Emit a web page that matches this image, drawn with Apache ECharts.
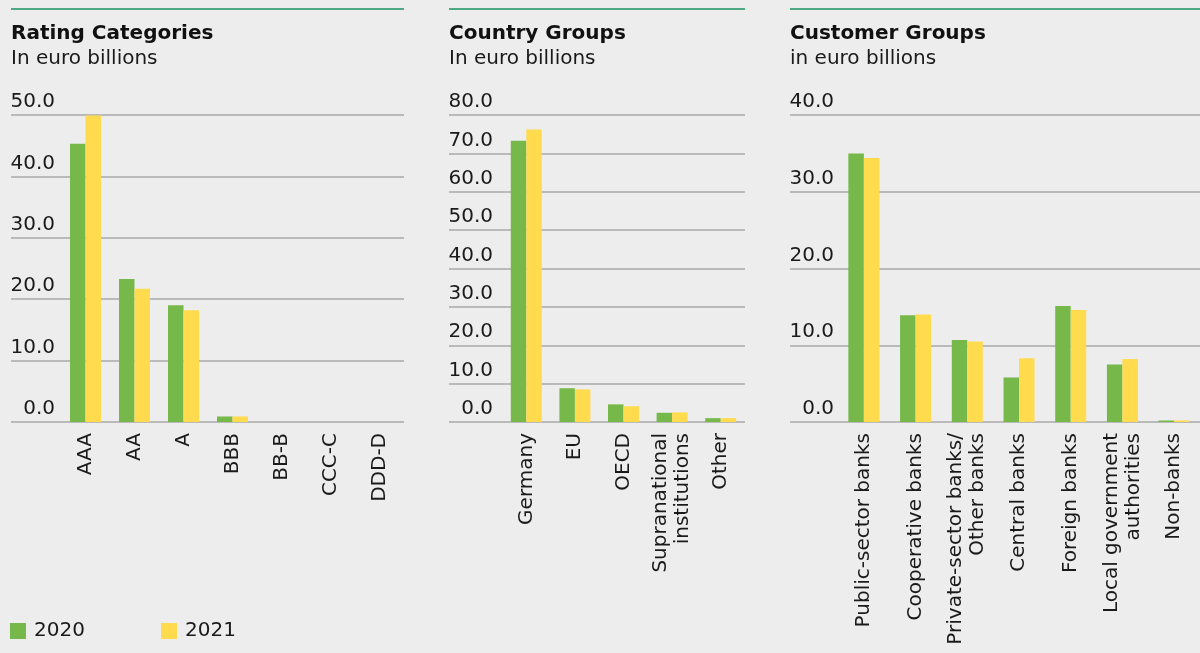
<!DOCTYPE html>
<html>
<head>
<meta charset="utf-8">
<title>Rating, Country and Customer Groups</title>
<script src="https://cdn.jsdelivr.net/npm/echarts@6/dist/echarts.min.js"></script>
<style>
  html, body { margin: 0; padding: 0; background: #ededed; }
  #chart { width: 1200px; height: 653px; }
</style>
</head>
<body>
<div id="chart"></div>
<script>
const SERIES_NAMES = ["2020", "2021"];
const SERIES_COLORS = ["#76b84a", "#ffdb4d"];

const ratingCategories = ["AAA", "AA", "A", "BBB", "BB-B", "CCC-C", "DDD-D"];
const rating2020 = [45.3, 23.3, 19.0, 0.9, 0, 0, 0];
const rating2021 = [49.9, 21.7, 18.2, 0.9, 0, 0, 0];
const ratingTicks = [0, 50, 10]; // min, max, step

const countryCategories = ["Germany", "EU", "OECD", "Supranational\ninstitutions", "Other"];
const country2020 = [73.3, 8.8, 4.6, 2.4, 1.0];
const country2021 = [76.2, 8.5, 4.1, 2.5, 1.0];
const countryTicks = [0, 80, 10];

const customerCategories = [
  "Public-sector banks",
  "Cooperative banks",
  "Private-sector banks/\nOther banks",
  "Central banks",
  "Foreign banks",
  "Local government\nauthorities",
  "Non-banks",
];
const customer2020 = [35.0, 13.9, 10.7, 5.8, 15.1, 7.5, 0.2];
const customer2021 = [34.4, 14.0, 10.5, 8.3, 14.6, 8.2, 0.2];
const customerTicks = [0, 40, 10];

const FONT = "DejaVu Sans, Verdana, sans-serif";
const TEXT_COLOR = "#1a1a1a";
const GRID_TOP = 115;
const GRID_BOTTOM = 231;

// each panel: gridline area (lineLeft..lineRight) and the bar area (barLeft..barRight)
const PANELS = [
  { title: "Rating Categories", sub: "In euro billions", lineLeft: 11, lineRight: 404, barLeft: 61, barRight: 404,
    categories: ratingCategories, values: [rating2020, rating2021], ticks: ratingTicks },
  { title: "Country Groups", sub: "In euro billions", lineLeft: 449, lineRight: 745, barLeft: 502, barRight: 745,
    categories: countryCategories, values: [country2020, country2021], ticks: countryTicks },
  { title: "Customer Groups", sub: "in euro billions", lineLeft: 790, lineRight: 1200, barLeft: 838, barRight: 1217,
    categories: customerCategories, values: [customer2020, customer2021], ticks: customerTicks },
];

const W = 1200;

const grid = [];
const xAxis = [];
const yAxis = [];
const series = [];
const title = [];
const graphic = [];

PANELS.forEach((p, i) => {
  const bg = i * 2;
  const bars = bg + 1;

  grid.push({ left: p.lineLeft, right: W - p.lineRight, top: GRID_TOP, bottom: GRID_BOTTOM });
  grid.push({ left: p.barLeft, right: W - p.barRight, top: GRID_TOP, bottom: GRID_BOTTOM });

  xAxis.push({ gridIndex: bg, type: "category", data: [], show: false });
  xAxis.push({
    gridIndex: bars,
    type: "category",
    data: p.categories,
    axisLine: { show: false },
    axisTick: { show: false },
    axisLabel: {
      rotate: 90,
      margin: 11,
      interval: 0,
      fontFamily: FONT,
      fontSize: 20,
      lineHeight: 22,
      color: TEXT_COLOR,
    },
  });

  yAxis.push({
    gridIndex: bg,
    type: "value",
    min: p.ticks[0],
    max: p.ticks[1],
    interval: p.ticks[2],
    axisLine: { show: false },
    axisTick: { show: false },
    splitLine: { lineStyle: { color: "#a8a8a8", width: 1.5 } },
    axisLabel: {
      margin: -44,
      align: "right",
      verticalAlign: "bottom",
      padding: [0, 0, 3, 0],
      fontFamily: FONT,
      fontSize: 20,
      color: TEXT_COLOR,
      formatter: (v) => v.toFixed(1),
    },
  });
  yAxis.push({
    gridIndex: bars,
    type: "value",
    min: p.ticks[0],
    max: p.ticks[1],
    interval: p.ticks[2],
    show: false,
    splitLine: { show: false },
  });

  SERIES_NAMES.forEach((name, k) => {
    series.push({
      name,
      type: "bar",
      xAxisIndex: bars,
      yAxisIndex: bars,
      data: p.values[k],
      barWidth: 15.5,
      barGap: "0%",
      itemStyle: { color: SERIES_COLORS[k] },
      silent: true,
    });
  });

  title.push({
    text: p.title,
    subtext: p.sub,
    left: p.lineLeft,
    top: 24,
    padding: 0,
    itemGap: 5,
    textStyle: { fontFamily: FONT, fontSize: 20, fontWeight: "bold", color: "#111" },
    subtextStyle: { fontFamily: FONT, fontSize: 20, color: TEXT_COLOR },
  });

  graphic.push({
    type: "line",
    shape: { x1: p.lineLeft, y1: 9, x2: p.lineRight, y2: 9 },
    style: { stroke: "#1a9060", lineWidth: 1.5 },
  });
});

const legendBase = {
  top: 621,
  itemWidth: 16,
  itemHeight: 16,
  icon: "rect",
  padding: 0,
  textStyle: { fontFamily: FONT, fontSize: 20, color: TEXT_COLOR, padding: [0, 0, 0, 3] },
};

const option = {
  backgroundColor: "#ededed",
  animation: false,
  color: SERIES_COLORS,
  title,
  graphic,
  legend: [
    { ...legendBase, left: 10, data: [SERIES_NAMES[0]] },
    { ...legendBase, left: 161, data: [SERIES_NAMES[1]] },
  ],
  grid,
  xAxis,
  yAxis,
  series,
};

const chart = echarts.init(document.getElementById("chart"));
chart.setOption(option);
</script>
</body>
</html>
